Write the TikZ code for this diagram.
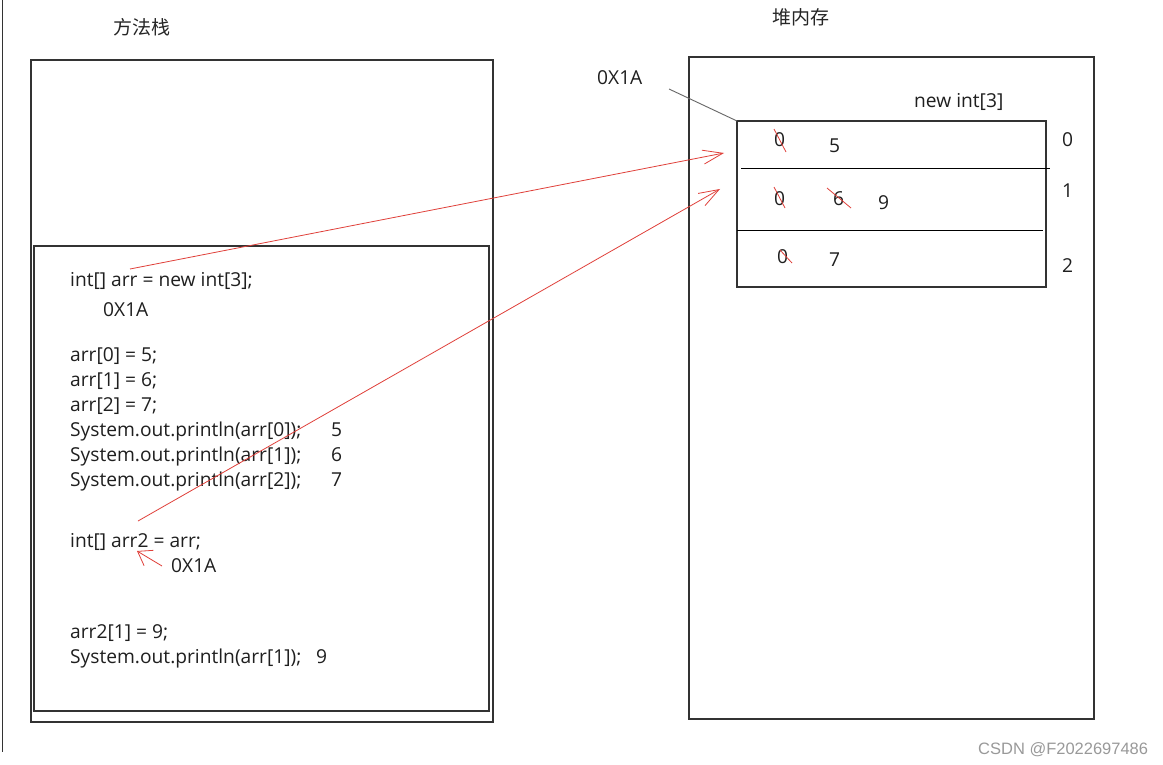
\documentclass[tikz,border=0pt]{standalone}
\usepackage{fontspec}
\setmainfont{Open Sans}
\newfontfamily\cjkfont{Noto Sans CJK SC}
\newfontfamily\wmfont{Liberation Sans}
\usetikzlibrary{arrows.meta}
\definecolor{boxline}{HTML}{333333}
\definecolor{redpen}{HTML}{E0403A}
\definecolor{wmgray}{HTML}{999999}
\tikzset{
  frame/.style={draw=boxline, line width=1.1pt},
  code/.style={anchor=base west, inner sep=0pt, font=\fontsize{19.2}{19.2}\selectfont, text=black!88},
  cjk/.style={anchor=base west, inner sep=0pt, font=\cjkfont\fontsize{19}{19}\selectfont, text=black!85},
  redarrow/.style={draw=redpen, line width=0.8pt, -{Straight Barb[length=20pt,width=14pt,line width=0.8pt]}},
  smallarrow/.style={draw=redpen, line width=0.8pt, -{Straight Barb[length=13pt,width=18pt,line width=0.8pt]}},
  strike/.style={draw=redpen, line width=0.8pt},
  divider/.style={draw=black, line width=1pt},
}
\begin{document}
\begin{tikzpicture}[x=1pt,y=-1pt]
\useasboundingbox (0,0) rectangle (1163,765);
\fill[white] (0,0) rectangle (1163,765);
% left edge line
\draw[boxline, line width=1.2pt] (2.5,0) -- (2.5,752);
% method stack
\node[cjk] (stacklbl) at (113,35) {方法栈};
\draw[frame] (31,60) rectangle (493,722);
\draw[frame] (34,246) rectangle (489,711);
% heap
\node[cjk] (heaplbl) at (772,25) {堆内存};
\draw[frame] (689,57) rectangle (1094,719);
% array
\draw[frame] (737,121) rectangle (1046,287);
\draw[divider] (741,169) -- (1050,169);
\draw[divider] (737,231) -- (1043,231);
\node[code] (addr) at (597,85) {0X1A};
\coordinate (addrEnd) at (669,89);
\coordinate (arrCorner) at (737,121);
\draw[gray!80!black, line width=0.9pt] (addrEnd) -- (arrCorner);
\node[code] (newint) at (914,108) {new int[3]};
\node[code] (i0) at (1062,147) {0};
\node[code] (i1) at (1062,197) {1};
\node[code] (i2) at (1062,272) {2};
% cell values
\node[code] (c0a) at (774,147) {0};
\node[code] (c0b) at (829,153) {5};
\node[code] (c1a) at (774,206) {0};
\node[code] (c1b) at (833,205) {6};
\node[code] (c1c) at (878,210) {9};
\node[code] (c2a) at (777,263) {0};
\node[code] (c2b) at (829,266) {7};
\draw[strike] (774,129) -- (786,152);
\draw[strike] (774,187) -- (785,208);
\draw[strike] (827,188) -- (851,208);
\draw[strike] (780,250) -- (792,263);
% code lines
\node[code] (l1) at (70,286) {int[] arr = new int[3];};
\node[code] (l2) at (103,316) {0X1A};
\node[code] (l3) at (70,361) {arr[0] = 5;};
\node[code] (l4) at (70,386) {arr[1] = 6;};
\node[code] (l5) at (70,411) {arr[2] = 7;};
\node[code] (l6) at (70,436) {System.out.println(arr[0]);};
\node[code] (o6) at (331,436) {5};
\node[code] (l7) at (70,461) {System.out.println(arr[1]);};
\node[code] (o7) at (331,461) {6};
\node[code] (l8) at (70,486) {System.out.println(arr[2]);};
\node[code] (o8) at (331,486) {7};
\node[code] (l9) at (70,547) {int[] arr2 = arr;};
\node[code] (l10) at (171,572) {0X1A};
\node[code] (l11) at (70,638) {arr2[1] = 9;};
\node[code] (l12) at (70,663) {System.out.println(arr[1]);};
\node[code] (o12) at (316,663) {9};
% red arrows
\coordinate (s1) at (130,269);
\coordinate (t1) at (724,153);
\coordinate (s2) at (138,521);
\coordinate (t2) at (720,189);
\coordinate (s3) at (162,566);
\coordinate (t3) at (137,551);
\draw[redarrow] (s1) -- (t1);
\draw[redarrow] (s2) -- (t2);
\draw[smallarrow] (s3) -- (t3);
% watermark
\node[anchor=base west, inner sep=0pt, font=\wmfont\fontsize{16.5}{16.5}\selectfont, text=wmgray] (wm) at (978,754) {CSDN @F2022697486};
\end{tikzpicture}
\end{document}
